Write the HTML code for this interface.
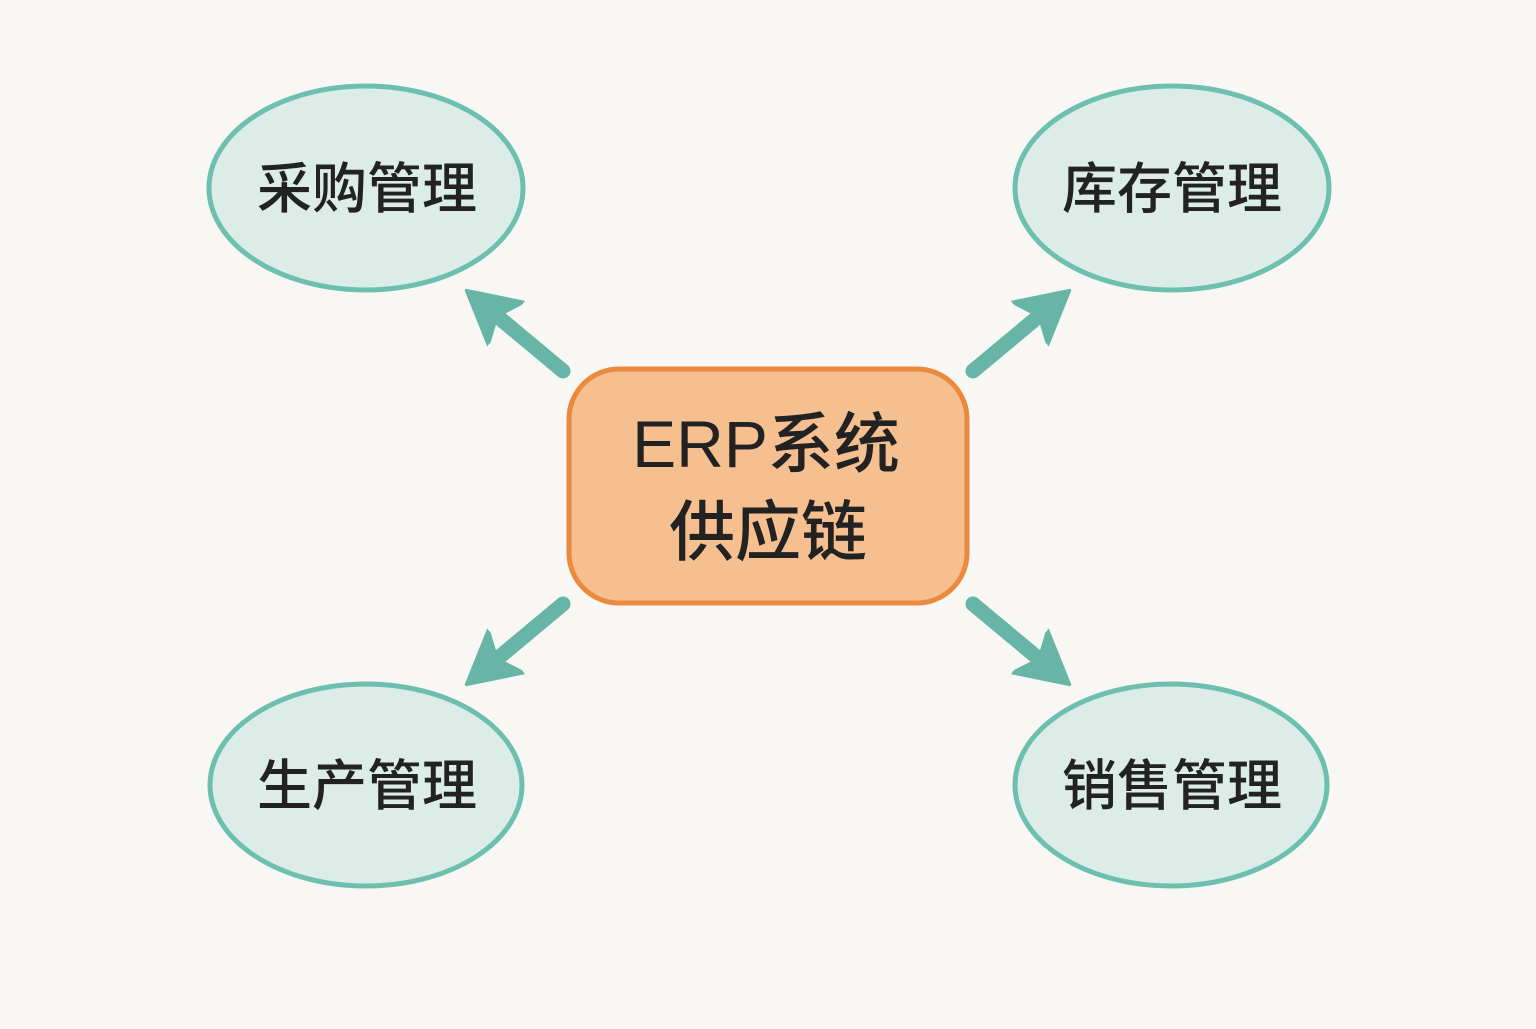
<!DOCTYPE html>
<html><head><meta charset="utf-8"><style>
html,body{margin:0;padding:0;background:#f9f7f3;}
</style></head><body>
<svg width="1536" height="1024" viewBox="0 0 1536 1024" xmlns="http://www.w3.org/2000/svg">
<rect width="1536" height="1024" fill="#f9f7f3"/>
<defs>
<marker id="ah" markerUnits="userSpaceOnUse" markerWidth="70" markerHeight="70" refX="12" refY="30" orient="auto">
<path d="M0,2 L52,30 L0,58 L12,30 Z" fill="#66b5a7" stroke="#66b5a7" stroke-width="3" stroke-linejoin="round"/>
</marker>
</defs>
<g stroke="#66b5a7" stroke-width="15" stroke-linecap="round" marker-end="url(#ah)">
<path d="M563,371 L497,316"/>
<path d="M973,371 L1039,316"/>
<path d="M563,604 L497,659"/>
<path d="M973,604 L1039,659"/>
</g>
<g fill="#dcece6" stroke="#6dbfb0" stroke-width="5">
<ellipse cx="366" cy="188" rx="157" ry="102"/>
<ellipse cx="1172" cy="188" rx="157" ry="102"/>
<ellipse cx="366" cy="785" rx="156" ry="101"/>
<ellipse cx="1171" cy="785" rx="156" ry="101"/>
</g>
<rect x="569" y="369" width="398" height="234" rx="50" fill="#f5bf90" stroke="#ea8a3e" stroke-width="5"/>
<g font-family="'Liberation Sans','Noto Sans CJK SC',sans-serif" fill="#222" text-anchor="middle" font-size="55" font-weight="500">
<text x="367" y="208">采购管理</text>
<text x="1172" y="208">库存管理</text>
<text x="367" y="805">生产管理</text>
<text x="1172" y="805">销售管理</text>
<text x="766" y="467" font-size="66">ERP系统</text>
<text x="768" y="555" font-size="66">供应链</text>
</g>
</svg>
</body></html>
